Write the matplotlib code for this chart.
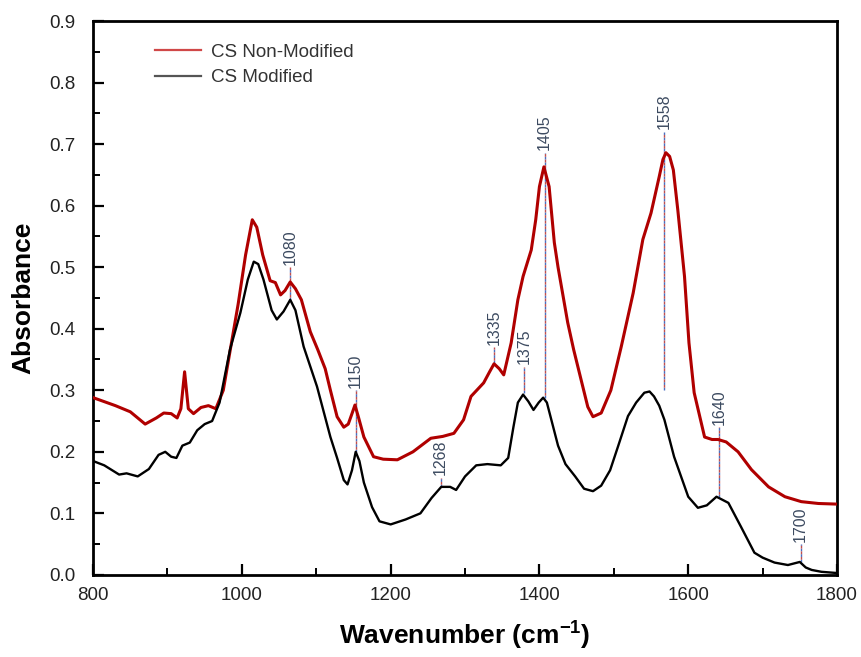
import numpy as np
import matplotlib
matplotlib.use("Agg")
import matplotlib.pyplot as plt
from matplotlib.lines import Line2D
from matplotlib.ticker import MultipleLocator

plt.rcParams['font.family'] = ['Liberation Sans', 'DejaVu Sans']
plt.rcParams['mathtext.fontset'] = 'custom'
plt.rcParams['mathtext.rm'] = 'Liberation Sans'
plt.rcParams['mathtext.bf'] = 'Liberation Sans:bold'

# ---- data ----
wn_red = [800, 830, 850, 870, 885, 895, 905, 913, 918, 923, 928, 935, 945, 955, 965,
          975, 985, 995, 1005, 1014, 1020, 1028, 1038, 1045, 1052, 1058, 1065, 1072,
          1080, 1092, 1102, 1112, 1119, 1128, 1137, 1143, 1148, 1152, 1157, 1164, 1177,
          1190, 1209, 1230, 1254, 1270, 1285, 1298, 1308, 1325, 1333, 1339, 1346, 1352,
          1362, 1371, 1378, 1389, 1395, 1400, 1406, 1413, 1420, 1425, 1438, 1446, 1456,
          1465, 1472, 1483, 1496, 1510, 1526, 1539, 1550, 1561, 1566, 1570, 1575, 1580,
          1586, 1595, 1601, 1608, 1622, 1632, 1640, 1651, 1667, 1685, 1708, 1730, 1752,
          1775, 1800]
abs_red = [0.288, 0.275, 0.265, 0.245, 0.255, 0.263, 0.262, 0.255, 0.27, 0.33, 0.27,
           0.262, 0.272, 0.275, 0.27, 0.30, 0.37, 0.44, 0.52, 0.577, 0.565, 0.52, 0.478,
           0.475, 0.455, 0.462, 0.476, 0.465, 0.447, 0.395, 0.366, 0.335, 0.30, 0.257,
           0.24, 0.245, 0.262, 0.276, 0.255, 0.224, 0.192, 0.188, 0.187, 0.20, 0.222,
           0.225, 0.23, 0.252, 0.29, 0.312, 0.33, 0.343, 0.335, 0.325, 0.377, 0.447,
           0.485, 0.528, 0.577, 0.631, 0.663, 0.631, 0.54, 0.50, 0.41, 0.366, 0.317,
           0.273, 0.257, 0.263, 0.30, 0.371, 0.458, 0.545, 0.588, 0.647, 0.675, 0.686,
           0.68, 0.658, 0.593, 0.485, 0.377, 0.296, 0.224, 0.22, 0.22, 0.216, 0.20,
           0.171, 0.143, 0.127, 0.119, 0.116, 0.115]

wn_blk = [800, 815, 835, 845, 860, 875, 888, 897, 905, 912, 920, 930, 940, 950, 960,
          970, 984, 998, 1008, 1016, 1022, 1029, 1040, 1047, 1056, 1065, 1072, 1083,
          1101, 1119, 1128, 1137, 1142, 1148, 1153, 1158, 1164, 1175, 1185, 1200, 1220,
          1240, 1255, 1268, 1280, 1288, 1300, 1315, 1330, 1348, 1358, 1365, 1371, 1378,
          1385, 1392, 1399, 1405, 1410, 1416, 1425, 1435, 1448, 1460, 1472, 1483, 1495,
          1506, 1519, 1530, 1541, 1548, 1554, 1561, 1568, 1581, 1600, 1613, 1625, 1638,
          1654, 1671, 1689, 1700, 1716, 1734, 1750, 1758, 1766, 1779, 1800]
abs_blk = [0.185, 0.178, 0.163, 0.165, 0.16, 0.172, 0.195, 0.20, 0.192, 0.19, 0.21,
           0.215, 0.235, 0.245, 0.25, 0.28, 0.366, 0.426, 0.48, 0.509, 0.505, 0.48,
           0.43, 0.415, 0.428, 0.447, 0.43, 0.371, 0.306, 0.224, 0.19, 0.154, 0.147,
           0.17, 0.20, 0.185, 0.15, 0.11, 0.087, 0.082, 0.09, 0.10, 0.125, 0.143, 0.143,
           0.138, 0.16, 0.178, 0.18, 0.178, 0.19, 0.24, 0.28, 0.293, 0.282, 0.268,
           0.28, 0.288, 0.28, 0.252, 0.21, 0.18, 0.16, 0.14, 0.136, 0.145, 0.17, 0.21,
           0.258, 0.28, 0.296, 0.298, 0.29, 0.275, 0.252, 0.192, 0.127, 0.109, 0.113,
           0.127, 0.117, 0.078, 0.036, 0.028, 0.02, 0.016, 0.021, 0.012, 0.008, 0.005,
           0.003]

# peak marks: label, x position, line bottom, line top
peak_labels = ["1080", "1150", "1268", "1335", "1375", "1405", "1558", "1640", "1700"]
peak_x = [1065, 1153, 1267, 1339, 1379, 1407, 1568, 1642, 1751]
peak_lo = [0.447, 0.20, 0.143, 0.345, 0.296, 0.288, 0.30, 0.127, 0.021]
peak_hi = [0.50, 0.30, 0.158, 0.37, 0.338, 0.686, 0.72, 0.24, 0.05]

fig = plt.figure(figsize=(8.62, 6.57), dpi=100)
ax = fig.add_axes([0.108, 0.125, 0.863, 0.843])

ax.plot(wn_red, abs_red, color="#b00000", lw=2.2, zorder=3)
ax.plot(wn_blk, abs_blk, color="black", lw=1.7, zorder=3)

for lab, x, lo, hi in zip(peak_labels, peak_x, peak_lo, peak_hi):
    ax.plot([x, x], [lo, hi], color="#4a6fc0", lw=1.0, ls=(0, (2, 2)), zorder=2)
    ax.plot([x, x], [lo, hi], color="#c05050", lw=1.0, ls=(2, (2, 2)), zorder=2)
    ax.text(x, hi + 0.004, lab, rotation=90, ha="center", va="bottom",
            fontsize=11.5, color="#3c4a60")

ax.set_xlim(800, 1800)
ax.set_ylim(0, 0.9)
ax.xaxis.set_major_locator(MultipleLocator(200))
ax.xaxis.set_minor_locator(MultipleLocator(100))
ax.yaxis.set_major_locator(MultipleLocator(0.1))
ax.yaxis.set_minor_locator(MultipleLocator(0.05))
ax.tick_params(which="major", direction="in", length=8, width=1.6,
               labelsize=13.5, labelcolor="#222222")
ax.tick_params(axis="x", which="major", pad=9)
ax.tick_params(axis="y", which="major", pad=13)
ax.tick_params(which="minor", direction="in", length=5, width=1.4)
for s in ax.spines.values():
    s.set_linewidth(2.0)

ax.set_xlabel(r"Wavenumber (cm$^{\mathbf{-1}}$)", fontsize=19, fontweight="bold",
              labelpad=10)
ax.set_ylabel("Absorbance", fontsize=19, fontweight="bold", labelpad=10)

handles = [Line2D([], [], color="#d04848", lw=1.6),
           Line2D([], [], color="#555555", lw=1.6)]
ax.legend(handles, ["CS Non-Modified", "CS Modified"], loc="upper left",
          bbox_to_anchor=(0.06, 0.99), frameon=False, fontsize=13.5,
          handlelength=2.5, handletextpad=0.5, labelspacing=0.45,
          labelcolor="#333333")

fig.savefig("out.png", dpi=100)
